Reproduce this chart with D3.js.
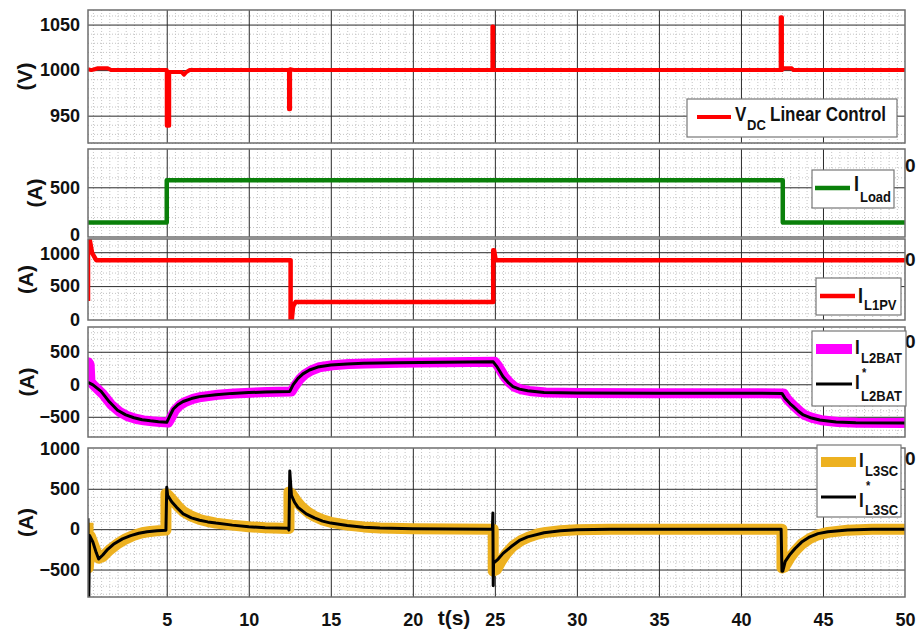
<!DOCTYPE html>
<html><head><meta charset="utf-8">
<script src="https://cdn.jsdelivr.net/npm/d3@7"></script>
<style>
body{margin:0;background:#fff}
text{font-family:"Liberation Sans",Arial,sans-serif;font-weight:bold;fill:#111}
</style>
</head><body><svg id="c" width="924" height="633"></svg>
<script>
// ---------------- DATA ----------------
const xTicks = [5,10,15,20,25,30,35,40,45,50];
const xTitle = "t(s)";

const yTicks1 = [950,1000,1050];
const yTicks2 = [0,500];
const yTicks3 = [0,500,1000];
const yTicks4 = [-500,0,500];
const yTicks5 = [-500,0,500,1000];

// DC bus voltage (V)
const vdcT = [0.2,0.4,0.6,0.8,1.0,1.4,1.6,5.0,5.0,5.15,5.15,5.6,5.9,6.05,6.2,6.4,12.45,12.45,12.52,12.52,12.8,24.85,24.85,24.9,24.9,42.42,42.42,42.5,42.5,42.6,43.1,43.2,50];
const vdcV = [1001,1000,1001,1002,1002,1002,1000,1000,939,939,998,998,998,995,998,1000,1000,957,957,1001,1000,1000,1048,1048,1000,1000,1058,1058,1000,1002,1002,1000,1000];

// Load current (A)
const iLoadT = [0.2,5.0,5.0,42.55,42.55,50];
const iLoadV = [145,145,570,570,145,145];

// PV inductor current (A)
const iPvT = [0.2,0.2,0.3,0.45,0.7,12.55,12.55,12.62,12.7,12.85,24.9,24.9,24.95,25.05,50];
const iPvV = [280,1190,1190,990,882,882,0,0,200,265,265,1030,1030,882,882];

// Battery inductor current (A) - measured
const iBatT = [0.2,0.22,0.3,0.35,0.6,1.1,1.6,2.1,2.6,3.1,3.6,4.1,4.6,5.1,5.3,5.5,5.8,6.1,6.6,7.1,8.1,9.1,10.1,11.1,12.6,12.8,13.1,13.4,13.8,14.3,15.1,16.1,17.1,19.1,25.0,25.2,25.4,25.6,25.9,26.2,26.6,27.1,28.1,30.1,35,42.6,42.8,43.1,43.3,43.6,43.9,44.4,44.9,45.9,47.1,50];
const iBatV = [150,340,300,40,-30,-150,-310,-420,-490,-530,-555,-570,-580,-590,-500,-400,-320,-275,-225,-195,-162,-142,-130,-120,-112,-30,75,150,212,262,293,312,321,330,345,280,195,112,25,-40,-78,-102,-126,-135,-138,-140,-222,-302,-350,-418,-475,-522,-552,-580,-592,-595];
// Battery current reference (A)
const iBatRefT = [0.2,0.5,1.0,1.5,2.0,2.5,3.0,3.5,4.0,4.5,5.0,5.2,5.4,5.7,6.0,6.5,7.0,8.0,9.0,10.0,11.0,12.5,12.7,13.0,13.3,13.7,14.2,15.0,16.0,17.0,19.0,24.9,25.1,25.3,25.5,25.8,26.1,26.5,27.0,28.0,30,35,42.5,42.7,43.0,43.2,43.5,43.8,44.3,44.8,45.8,47,50];
const iBatRefV = [30,-10,-110,-270,-400,-470,-515,-545,-562,-575,-585,-480,-380,-310,-265,-220,-190,-160,-140,-128,-118,-110,-10,90,160,220,265,295,313,322,330,345,280,200,117,30,-37,-75,-100,-125,-135,-138,-140,-220,-300,-345,-415,-472,-520,-550,-580,-592,-595];

// Supercapacitor inductor current (A) - measured
const iScT = [0.2,0.22,0.35,0.55,0.85,1.1,1.5,2.0,2.5,3.0,3.5,4.0,4.5,4.95,4.95,5.1,5.4,5.7,6.0,6.5,7.0,7.5,8,9,10,11,12.45,12.45,12.6,12.9,13.2,13.6,14,14.5,15,16,17,18,20,24.9,24.9,25.1,25.4,25.7,26.1,26.6,27.1,27.6,28.1,29,30,32,42.5,42.5,42.65,43,43.3,43.7,44.2,44.7,45.3,46.5,48,50];
const iScV = [80,-480,-90,-200,-360,-340,-260,-180,-120,-75,-45,-28,-18,-12,440,420,350,280,220,160,120,95,75,50,30,18,8,460,440,350,280,210,160,115,85,50,28,15,5,0,-520,-500,-390,-300,-210,-140,-95,-60,-40,-20,-8,0,0,-480,-470,-350,-270,-185,-115,-70,-40,-12,0,0];
// Supercapacitor current reference (A)
const iScRefT = [0.2,0.2,0.25,0.3,0.5,0.7,0.85,1.1,1.4,1.8,2.3,2.8,3.3,3.8,4.4,4.95,5.0,5.05,5.3,5.6,6.0,6.5,7.0,7.5,8.0,9.0,10.0,11.0,12.4,12.45,12.5,12.6,12.8,13.0,13.5,14.0,14.5,15.0,16.0,17.0,18.0,20.0,24.85,24.88,24.9,24.92,25.2,25.5,26.0,26.5,27.0,28.0,29.0,30.0,32.0,42.45,42.5,42.55,42.7,43.0,43.3,43.7,44.2,44.7,45.3,46.5,48,50];
const iScRefV = [135,-840,-840,-80,-160,-290,-370,-320,-250,-180,-120,-80,-50,-32,-20,-12,520,420,340,270,190,140,110,90,75,50,30,18,10,-10,720,420,330,270,190,140,100,75,45,25,15,5,0,200,-700,-420,-370,-300,-215,-140,-95,-45,-20,-8,0,0,-520,-520,-400,-310,-240,-160,-95,-55,-33,-10,0,0];

// ---------------- DRAWING ----------------
const svg = d3.select("#c");
const X0 = 88, X1 = 905;
const x = d3.scaleLinear().domain([0.2, 50]).range([X0, X1]);
const zip = (t, v) => t.map((d, i) => [d, v[i]]);
const FONT = '"Liberation Sans",Arial,sans-serif';

const minorX = d3.range(0.5, 50, 0.5).filter(d => d % 5 !== 0);
const majorX = [5,10,15,20,25,30,35,40,45];

const panels = [
  {top:10, bottom:143, domain:[920,1066], ticks:yTicks1, minor:10, title:"(V)", tx:25,
   series:[{t:vdcT, v:vdcV, c:"#ff0000", w:4}]},
  {top:149, bottom:237, domain:[0,885], ticks:yTicks2, minor:100, title:"(A)", tx:35,
   series:[{t:iLoadT, v:iLoadV, c:"#0a800a", w:4.5}]},
  {top:239, bottom:320, domain:[0,1195], ticks:yTicks3, minor:100, title:"(A)", tx:26,
   series:[{t:iPvT, v:iPvV, c:"#ff0000", w:4.5}]},
  {top:327, bottom:437, domain:[-811,881], ticks:yTicks4, minor:100, title:"(A)", tx:27,
   series:[{t:iBatT, v:iBatV, c:"#ff00ff", w:10}, {t:iBatRefT, v:iBatRefV, c:"#000", w:3}]},
  {top:448, bottom:597, domain:[-840,1005], ticks:yTicks5, minor:100, title:"(A)", tx:26,
   series:[{t:iScT, v:iScV, c:"#edb120", w:11}, {t:iScRefT, v:iScRefV, c:"#000", w:3}]}
];

panels.forEach((p, i) => {
  const y = d3.scaleLinear().domain(p.domain).range([p.bottom, p.top]);
  const h = p.bottom - p.top;
  const g = svg.append("g");
  g.append("rect").attr("x", X0).attr("y", p.top).attr("width", X1 - X0).attr("height", h).attr("fill", "#fff");

  const minorY = d3.range(Math.ceil(p.domain[0] / p.minor) * p.minor, p.domain[1], p.minor)
    .filter(d => !p.ticks.includes(d));

  const styleMinor = a => { a.select(".domain").remove(); a.selectAll("line").attr("stroke", "#c4c4c4").attr("stroke-dasharray", "1,2"); };
  const styleMajor = a => { a.select(".domain").remove(); a.selectAll("line").attr("stroke", "#2a2a2a").attr("stroke-width", 1); };
  g.append("g").attr("transform", `translate(0,${p.bottom})`)
    .call(d3.axisBottom(x).tickValues(minorX).tickSize(-h).tickFormat("")).call(styleMinor);
  g.append("g").attr("transform", `translate(${X0},0)`)
    .call(d3.axisLeft(y).tickValues(minorY).tickSize(-(X1 - X0)).tickFormat("")).call(styleMinor);
  g.append("g").attr("transform", `translate(0,${p.bottom})`)
    .call(d3.axisBottom(x).tickValues(majorX).tickSize(-h).tickFormat("")).call(styleMajor);
  g.append("g").attr("transform", `translate(${X0},0)`)
    .call(d3.axisLeft(y).tickValues(p.ticks.filter(d => y(d) > p.top + 1 && y(d) < p.bottom - 1)).tickSize(-(X1 - X0)).tickFormat(""))
    .call(styleMajor);

  const cid = "clip" + i;
  svg.append("clipPath").attr("id", cid).append("rect")
    .attr("x", X0).attr("y", p.top).attr("width", X1 - X0).attr("height", h);
  const line = d3.line().x(d => x(d[0])).y(d => y(d[1]));
  p.series.forEach(s => {
    g.append("path").attr("clip-path", `url(#${cid})`)
      .datum(zip(s.t, s.v)).attr("d", line)
      .attr("fill", "none").attr("stroke", s.c).attr("stroke-width", s.w)
      .attr("stroke-linejoin", "round").attr("stroke-linecap", "butt");
  });

  g.append("rect").attr("x", X0).attr("y", p.top).attr("width", X1 - X0).attr("height", h)
    .attr("fill", "none").attr("stroke", "#6e6e6e").attr("stroke-width", 1.5);

  g.append("g").attr("transform", `translate(${X0},0)`)
    .call(d3.axisLeft(y).tickValues(p.ticks).tickSize(0).tickPadding(8).tickFormat(d3.format("d")))
    .call(a => { a.select(".domain").remove();
      a.selectAll("text").attr("font-size", 18).attr("fill", "#111")
       .attr("font-family", FONT).attr("font-weight", "bold"); });

  g.append("text").attr("transform", `translate(${p.tx + 7},${(p.top + p.bottom) / 2}) rotate(-90)`)
    .attr("text-anchor", "middle").attr("font-size", 21).text(p.title);
  p.g = g;
});

// nudge the touching labels between panels 2 and 3 apart slightly
panels[1].g.selectAll(".tick text").filter(d => d === 0).attr("dy", "0.18em");
panels[2].g.selectAll(".tick text").filter(d => d === 1000).attr("dy", "0.42em");

// x tick labels on bottom panel
const pb = panels[4];
svg.append("g").attr("transform", `translate(0,${pb.bottom})`)
  .call(d3.axisBottom(x).tickValues(xTicks).tickSize(0).tickFormat(d3.format("d")))
  .call(a => { a.select(".domain").remove();
    a.selectAll("text").attr("y", 29).attr("dy", 0).attr("font-size", 18).attr("fill", "#111")
     .attr("font-family", FONT).attr("font-weight", "bold"); });
svg.append("text").attr("x", 454).attr("y", 625).attr("text-anchor", "middle")
  .attr("font-size", 21).text(xTitle);

// stray right-edge "0" labels
[171.5, 266, 348, 465].forEach(yy => {
  svg.append("text").attr("x", 905).attr("y", yy).attr("font-size", 19).text("0");
});

// ---------------- LEGENDS ----------------
function legend(box, items) {
  const g = svg.append("g");
  g.append("rect").attr("x", box[0]).attr("y", box[1]).attr("width", box[2] - box[0]).attr("height", box[3] - box[1])
    .attr("fill", "#fff").attr("stroke", "#777").attr("stroke-width", 1.2);
  items.forEach(it => {
    g.append("line").attr("x1", it.x0).attr("x2", it.x1).attr("y1", it.y).attr("y2", it.y)
      .attr("stroke", it.c).attr("stroke-width", it.w);
    it.texts.forEach(tx => {
      g.append("text").attr("transform", `translate(${tx[0]},${tx[1]}) scale(1,1.18)`)
        .attr("font-size", tx[3]).text(tx[2]);
    });
  });
}
legend([687, 99, 897, 137], [{x0:697, x1:731, y:117, c:"#ff0000", w:4,
  texts:[[735,121,"V",17],[747,130,"DC",13],[770,121,"Linear Control",17]]}]);
legend([812, 170, 894, 208], [{x0:815, x1:850, y:188, c:"#0a800a", w:4.5,
  texts:[[854,191,"I",18],[860,202,"Load",13]]}]);
legend([816, 278, 901, 315], [{x0:820, x1:855, y:296, c:"#ff0000", w:4.5,
  texts:[[858,303,"I",18],[864,310,"L1PV",13]]}]);
legend([812, 331, 906, 406], [
  {x0:816, x1:852, y:349, c:"#ff00ff", w:10, texts:[[855,354,"I",17],[861,363,"L2BAT",13]]},
  {x0:816, x1:852, y:384, c:"#000", w:3, texts:[[855,389,"I",17],[862,377,"*",11],[861,401,"L2BAT",13]]}
]);
legend([817, 445, 901, 517], [
  {x0:821, x1:856, y:462, c:"#edb120", w:10, texts:[[859,467,"I",17],[865,476,"L3SC",13]]},
  {x0:821, x1:856, y:497, c:"#000", w:3, texts:[[859,507,"I",17],[866,490,"*",11],[865,515,"L3SC",13]]}
]);
</script>
</body></html>
